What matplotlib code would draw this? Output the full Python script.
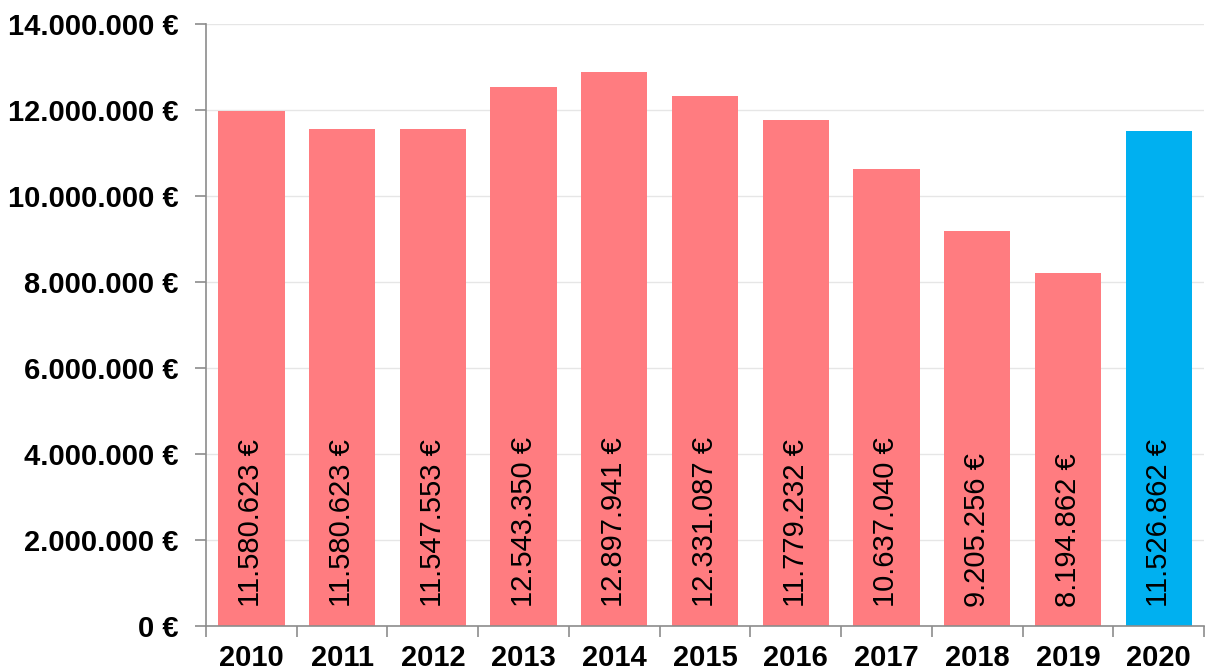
import matplotlib
matplotlib.use("Agg")
import matplotlib.pyplot as plt
from matplotlib.ticker import FuncFormatter, MultipleLocator, FixedLocator

# ── Data ──────────────────────────────────────────────────────────
years = ["2010", "2011", "2012", "2013", "2014", "2015",
         "2016", "2017", "2018", "2019", "2020"]
heights = [11980000, 11560000, 11560000, 12530000, 12880000, 12330000,
           11780000, 10620000, 9190000, 8220000, 11510000]
labels = ["11.580.623 €", "11.580.623 €", "11.547.553 €", "12.543.350 €",
          "12.897.941 €", "12.331.087 €", "11.779.232 €", "10.637.040 €",
          "9.205.256 €", "8.194.862 €", "11.526.862 €"]

_PINK = "#FF7C80"
_BLUE = "#00B0F0"
_GRID = "#E6E6E6"
_AXIS = "#8C8C8C"

plt.rcParams["font.family"] = ["Liberation Sans", "DejaVu Sans"]

fig = plt.figure(figsize=(12.07, 6.72), dpi=100, facecolor="white")
ax = fig.add_axes([0.1707, 0.0685, 0.8268, 0.8955])

x = list(range(len(years)))
colors = [_PINK] * (len(years) - 1) + [_BLUE]
ax.bar(x, heights, width=0.73, color=colors, zorder=2)

for xi, lab in zip(x, labels):
    ax.annotate(lab, (xi, 0), xytext=(0, 14), textcoords="offset points",
                rotation=90, ha="center", va="bottom", fontsize=21,
                color="black", zorder=3)

ax.set_xlim(-0.5, len(years) - 0.5)
ax.set_ylim(0, 14000000)
ax.yaxis.set_major_locator(MultipleLocator(2000000))
ax.yaxis.set_major_formatter(
    FuncFormatter(lambda v, _: f"{int(v):,}".replace(",", ".") + " €"))

ax.set_xticks(x)
ax.set_xticklabels(years)
ax.xaxis.set_minor_locator(FixedLocator([i - 0.5 for i in range(len(years) + 1)]))
ax.tick_params(axis="x", which="major", length=0, pad=13, labelsize=21)
ax.tick_params(axis="x", which="minor", length=8, color=_AXIS, width=1.2)
ax.tick_params(axis="y", length=8, color=_AXIS, width=1.2, pad=12, labelsize=21)
for t in ax.get_xticklabels() + ax.get_yticklabels():
    t.set_fontweight("bold")

ax.grid(True, axis="y", color=_GRID, lw=1, zorder=0)
ax.set_axisbelow(True)
for side in ("top", "right"):
    ax.spines[side].set_visible(False)
for side in ("left", "bottom"):
    ax.spines[side].set_color(_AXIS)
    ax.spines[side].set_linewidth(1.2)

fig.savefig("out.png", dpi=100, facecolor="white")
